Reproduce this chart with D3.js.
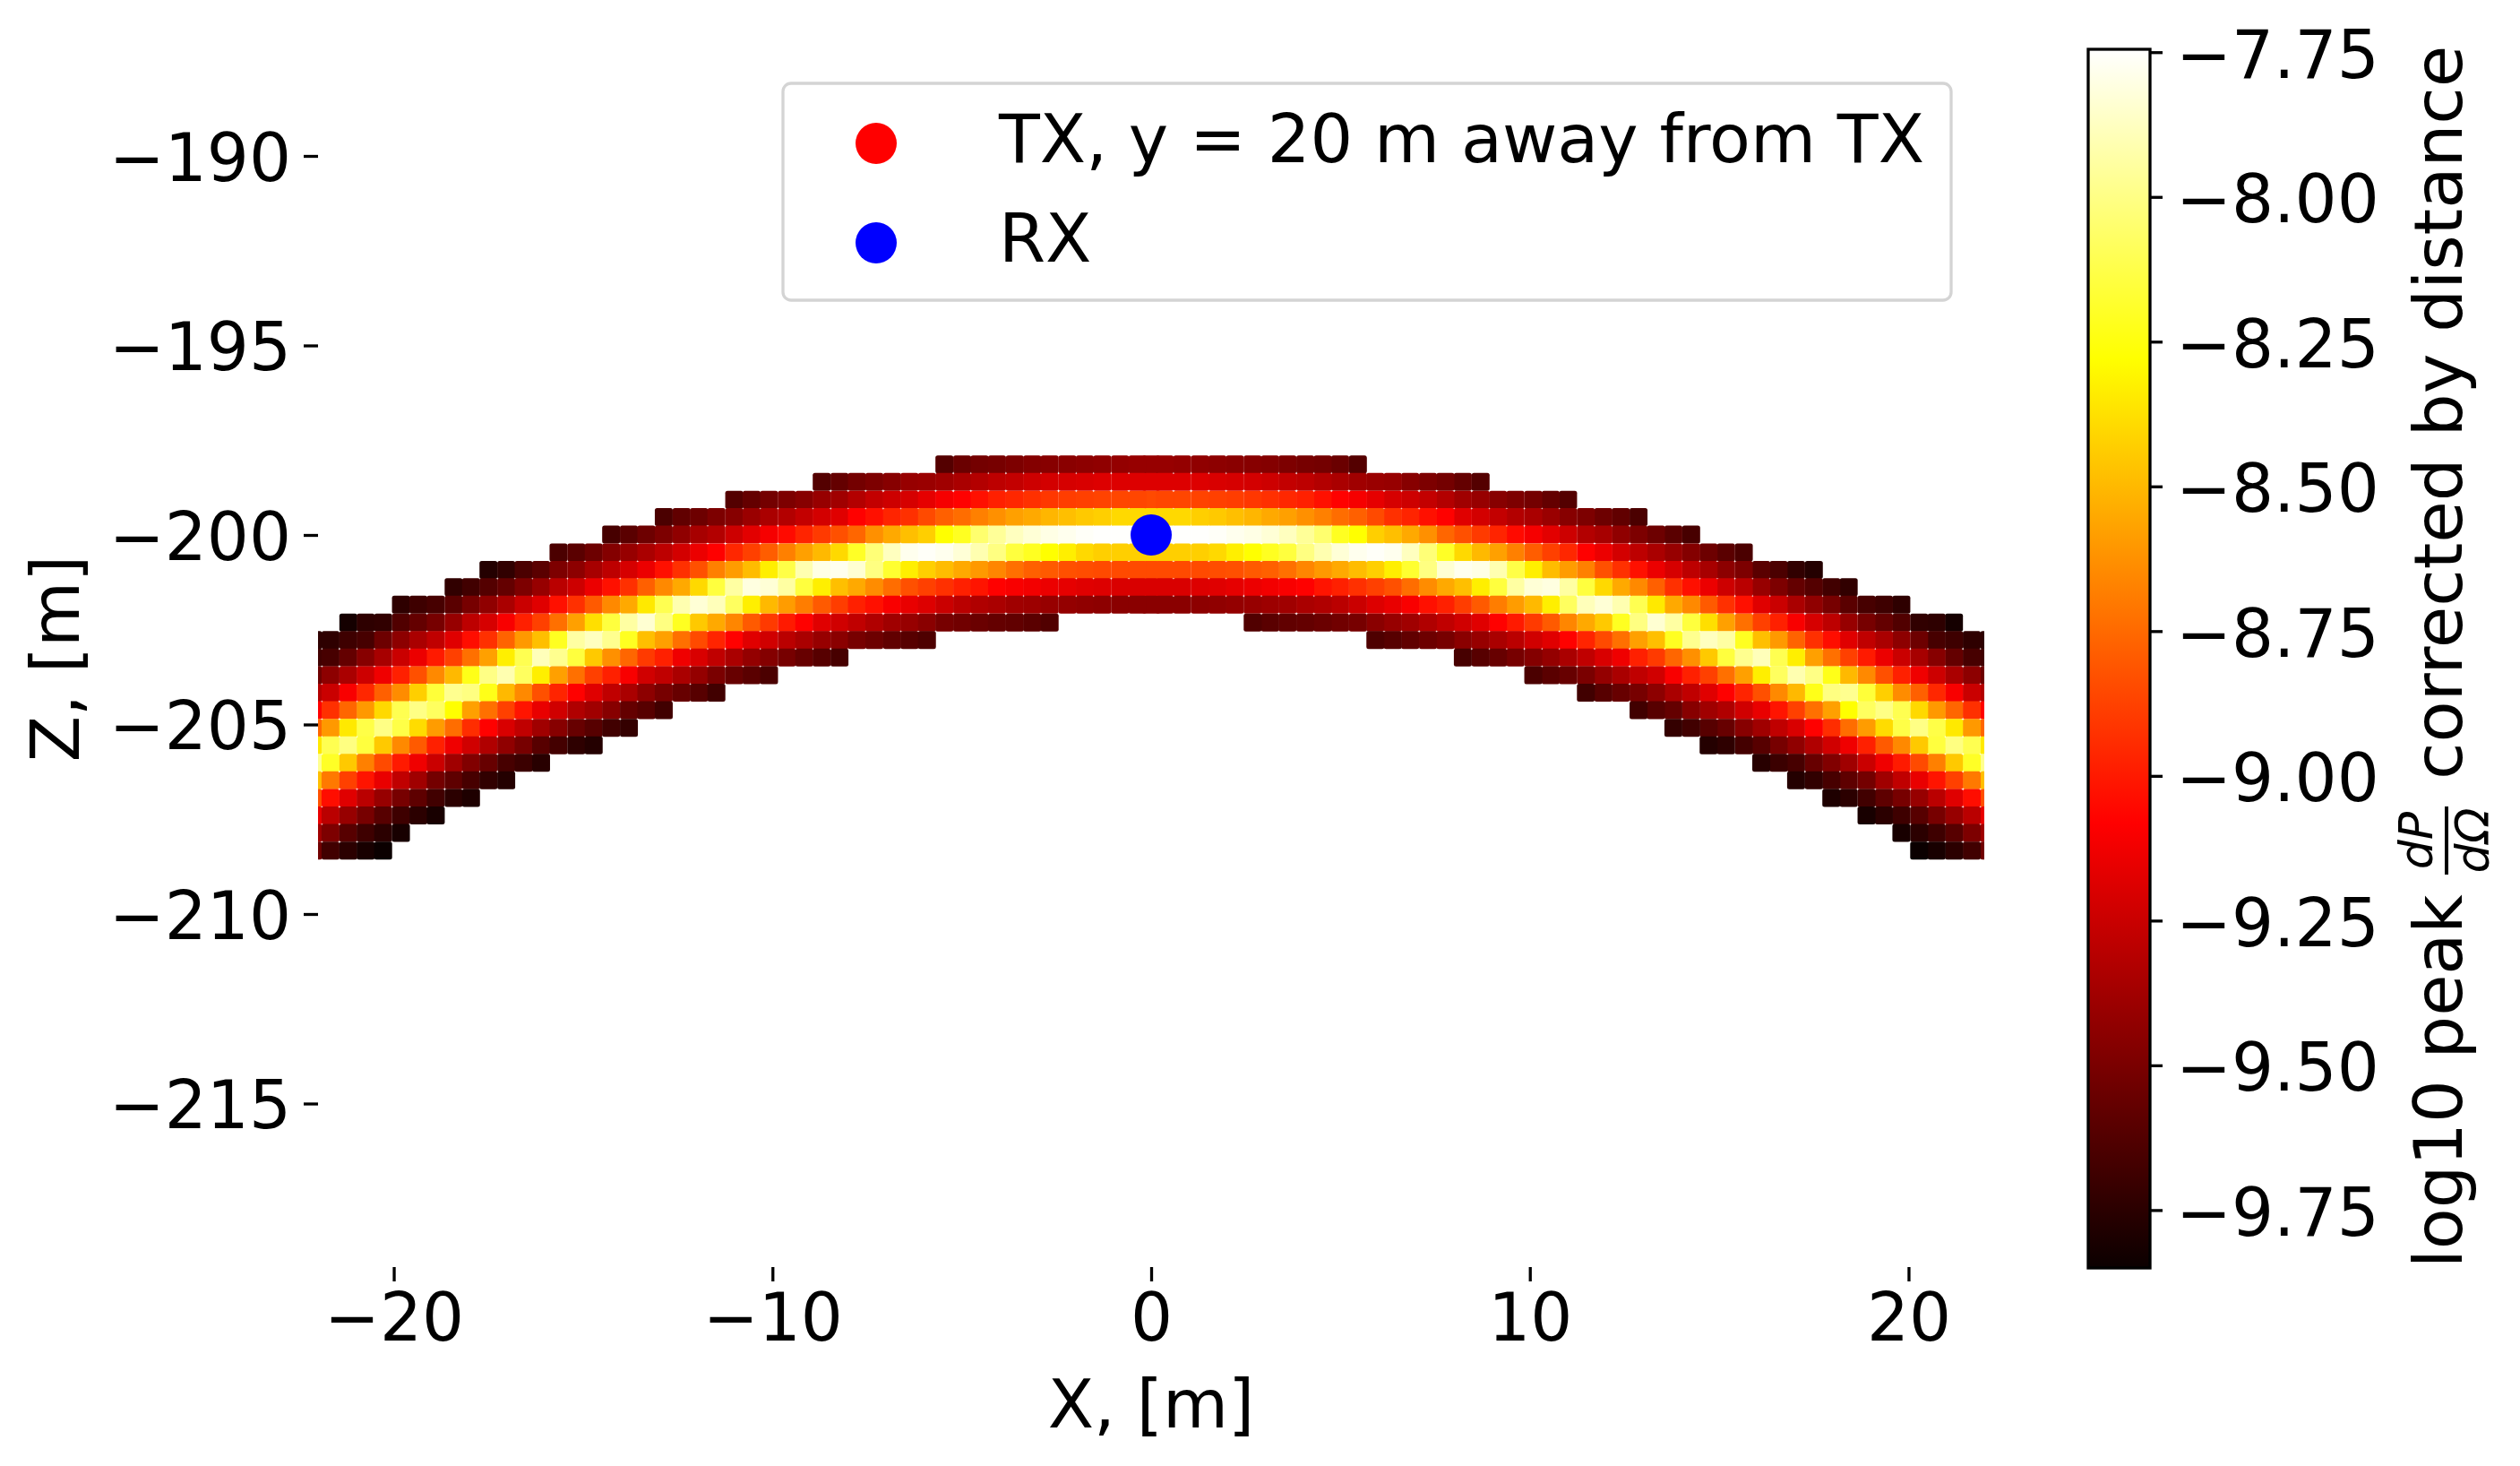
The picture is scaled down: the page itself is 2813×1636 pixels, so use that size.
<!DOCTYPE html>
<html>
<head>
<meta charset="utf-8">
<script src="https://cdn.jsdelivr.net/npm/d3@7"></script>
<style>
  body { margin: 0; background: white; }
  text { font-family: "DejaVu Sans", sans-serif; fill: black; }
</style>
</head>
<body>
<div id="chart"></div>
<script>
// grid columns left of x = 0, the right side of the band is the mirror image
const xColumns = [-22.13, -21.67, -21.20, -20.74, -20.28, -19.81, -19.35, -18.89, -18.42, -17.96,
  -17.50, -17.03, -16.57, -16.11, -15.65, -15.18, -14.72, -14.26, -13.79, -13.33,
  -12.87, -12.40, -11.94, -11.48, -11.01, -10.55, -10.09, -9.62, -9.16, -8.70,
  -8.23, -7.77, -7.31, -6.84, -6.38, -5.92, -5.46, -4.99, -4.53, -4.07,
  -3.60, -3.14, -2.68, -2.21, -1.75, -1.29, -0.82, -0.36];
const zRows = [-198.14, -198.60, -199.07, -199.53, -199.99, -200.46, -200.92, -201.38, -201.84, -202.31,
  -202.77, -203.23, -203.70, -204.16, -204.62, -205.09, -205.55, -206.01, -206.47, -206.94,
  -207.40, -207.86, -208.33];
// index in xColumns of the first cell of each row
const rowStart = [36, 29, 24, 20, 17, 14, 10, 8, 5, 2, 0, 0, 0, 0, 0, 0, 0, 0, 0, 0, 0, 0, 0];

const row00 = [-9.62, -9.55, -9.52, -9.51, -9.49, -9.47, -9.46, -9.45, -9.44, -9.43, -9.42, -9.41];
const row01 = [-9.62, -9.57, -9.52, -9.49, -9.46, -9.41, -9.40, -9.38, -9.35, -9.32, -9.29, -9.27, -9.24, -9.22, -9.21, -9.20, -9.19, -9.19, -9.19];
const row02 = [-9.62, -9.57, -9.52, -9.49, -9.46, -9.41, -9.38, -9.32, -9.27, -9.24, -9.21, -9.16, -9.11, -9.08, -9.03, -8.98, -8.96, -8.93, -8.91, -8.89, -8.88, -8.87, -8.86, -8.86];
const row03 = [-9.65, -9.58, -9.54, -9.49, -9.46, -9.40, -9.35, -9.32, -9.27, -9.22, -9.18, -9.08, -9.03, -8.97, -8.93, -8.85, -8.78, -8.74, -8.68, -8.63, -8.58, -8.55, -8.51, -8.48, -8.45, -8.43, -8.40, -8.40];
const row04 = [-9.66, -9.60, -9.54, -9.49, -9.43, -9.36, -9.32, -9.24, -9.17, -9.11, -9.05, -8.97, -8.90, -8.83, -8.76, -8.63, -8.55, -8.48, -8.43, -8.28, -8.21, -8.05, -7.96, -7.88, -7.83, -7.80, -7.78, -7.76, -7.75, -7.75, -7.75];
const row05 = [-9.65, -9.60, -9.54, -9.47, -9.41, -9.35, -9.29, -9.22, -9.14, -9.08, -8.96, -8.88, -8.79, -8.68, -8.58, -8.50, -8.40, -8.20, -8.03, -7.88, -7.78, -7.76, -7.78, -7.83, -7.91, -8.01, -8.15, -8.21, -8.28, -8.33, -8.40, -8.43, -8.43, -8.43];
const row06 = [-9.77, -9.73, -9.65, -9.60, -9.49, -9.44, -9.36, -9.29, -9.21, -9.14, -9.03, -8.93, -8.83, -8.68, -8.59, -8.49, -8.33, -8.13, -7.91, -7.80, -7.78, -7.84, -8.01, -8.18, -8.33, -8.43, -8.49, -8.55, -8.60, -8.66, -8.73, -8.78, -8.80, -8.83, -8.84, -8.85, -8.85, -8.85];
const row07 = [-9.73, -9.68, -9.62, -9.57, -9.49, -9.41, -9.30, -9.24, -9.14, -9.03, -8.93, -8.78, -8.65, -8.55, -8.40, -8.15, -7.94, -7.81, -7.83, -7.94, -8.15, -8.33, -8.48, -8.55, -8.64, -8.74, -8.83, -8.88, -8.93, -8.98, -9.02, -9.08, -9.10, -9.12, -9.14, -9.16, -9.18, -9.19, -9.20, -9.20];
const row08 = [-9.74, -9.69, -9.66, -9.60, -9.51, -9.43, -9.35, -9.25, -9.18, -9.03, -8.93, -8.80, -8.65, -8.55, -8.35, -8.11, -7.91, -7.83, -7.89, -8.08, -8.33, -8.50, -8.59, -8.69, -8.80, -8.89, -8.98, -9.03, -9.10, -9.15, -9.19, -9.25, -9.30, -9.33, -9.35, -9.38, -9.39, -9.41, -9.42, -9.43, -9.44, -9.45, -9.45];
const row09 = [-9.82, -9.74, -9.73, -9.63, -9.57, -9.51, -9.41, -9.29, -9.21, -9.10, -8.98, -8.88, -8.73, -8.58, -8.38, -8.15, -7.94, -7.84, -8.01, -8.21, -8.45, -8.55, -8.66, -8.80, -8.90, -9.00, -9.08, -9.18, -9.23, -9.28, -9.33, -9.38, -9.41, -9.45, -9.51, -9.53, -9.55, -9.57, -9.58, -9.60, -9.63];
const row10 = [-9.74, -9.74, -9.69, -9.66, -9.54, -9.44, -9.35, -9.28, -9.18, -9.04, -8.93, -8.77, -8.60, -8.48, -8.21, -7.94, -7.88, -7.98, -8.21, -8.48, -8.58, -8.73, -8.85, -8.97, -9.08, -9.18, -9.23, -9.30, -9.35, -9.41, -9.45, -9.51, -9.54, -9.58, -9.61, -9.64];
const row11 = [-9.68, -9.66, -9.57, -9.46, -9.36, -9.25, -9.14, -9.00, -8.88, -8.73, -8.58, -8.33, -8.11, -7.89, -7.98, -8.15, -8.45, -8.63, -8.76, -8.90, -8.98, -9.13, -9.20, -9.28, -9.35, -9.42, -9.47, -9.51, -9.56, -9.61, -9.66];
const row12 = [-9.54, -9.44, -9.35, -9.24, -9.13, -8.98, -8.83, -8.65, -8.50, -8.23, -8.00, -7.91, -8.08, -8.33, -8.58, -8.73, -8.88, -8.98, -9.10, -9.23, -9.28, -9.35, -9.42, -9.50, -9.56, -9.60, -9.65];
const row13 = [-9.32, -9.25, -9.10, -8.96, -8.78, -8.64, -8.43, -8.16, -7.98, -8.01, -8.23, -8.50, -8.65, -8.83, -8.97, -9.08, -9.18, -9.28, -9.35, -9.44, -9.51, -9.56, -9.61, -9.68];
const row14 = [-9.08, -8.93, -8.76, -8.60, -8.40, -8.11, -8.00, -8.08, -8.28, -8.58, -8.73, -8.88, -9.02, -9.15, -9.23, -9.33, -9.38, -9.46, -9.57, -9.61, -9.68];
const row15 = [-8.76, -8.60, -8.35, -8.13, -8.00, -8.13, -8.39, -8.59, -8.74, -8.94, -9.08, -9.20, -9.28, -9.38, -9.46, -9.56, -9.61, -9.68, -9.72];
const row16 = [-8.35, -8.11, -8.01, -8.15, -8.45, -8.65, -8.80, -8.98, -9.13, -9.23, -9.33, -9.43, -9.51, -9.61, -9.67, -9.74, -9.77];
const row17 = [-7.98, -8.20, -8.45, -8.68, -8.85, -9.00, -9.13, -9.25, -9.38, -9.48, -9.56, -9.66, -9.70, -9.76];
const row18 = [-8.48, -8.70, -8.88, -9.02, -9.15, -9.28, -9.38, -9.52, -9.59, -9.66, -9.73, -9.77];
const row19 = [-8.83, -9.04, -9.18, -9.30, -9.41, -9.51, -9.59, -9.68, -9.75, -9.79];
const row20 = [-9.15, -9.30, -9.41, -9.51, -9.61, -9.69, -9.75, -9.81];
const row21 = [-9.38, -9.49, -9.61, -9.69, -9.75, -9.81];
const row22 = [-9.53, -9.68, -9.75, -9.81, -9.85];
const rowValues = [row00, row01, row02, row03, row04, row05, row06, row07, row08, row09, row10, row11,
  row12, row13, row14, row15, row16, row17, row18, row19, row20, row21, row22];
// the cells on x = 0, rows 0 to 8, they sit under both halves
const centerValues = [-9.41, -9.19, -8.85, -8.40, -7.75, -8.43, -8.85, -9.20, -9.45];

const xTicks = [-20, -10, 0, 10, 20];
const zTicks = [-190, -195, -200, -205, -210, -215];
const cbarTicks = [-9.75, -9.5, -9.25, -9, -8.75, -8.5, -8.25, -8, -7.75];
const legendLabels = ["TX, y = 20 m away from TX", "RX"];
const legendColors = ["#ff0000", "#0000ff"];

const fontSize = 74;
const titleSize = 75;
const tickWidth = 3.3;
const tickLen = 16;
const cellSize = 20;

const x = d3.scaleLinear().domain([-22, 22]).range([355, 2215]);
const z = d3.scaleLinear().domain([-200, -190]).range([597, 174]);
const plotTop = 55, plotBottom = 1414;

// matplotlib "hot" colormap
const vmin = -9.85, vmax = -7.745;
const hotStops = [0, 0.365, 0.746, 1];
const hotColors = ["#0b0000", "#ff0000", "#ffff00", "#ffffff"];
const color = d3.scaleLinear()
  .domain(hotStops.map(t => vmin + t * (vmax - vmin)))
  .range(hotColors);

const svg = d3.select("#chart").append("svg")
  .attr("width", 2813)
  .attr("height", 1636)
  .style("display", "block");

const defs = svg.append("defs");
defs.append("clipPath").attr("id", "plot-clip")
  .append("rect")
  .attr("x", x(-22)).attr("y", plotTop)
  .attr("width", x(22) - x(-22)).attr("height", plotBottom - plotTop);

const grad = defs.append("linearGradient").attr("id", "hot")
  .attr("x1", 0).attr("y1", 1).attr("x2", 0).attr("y2", 0);
hotStops.forEach((t, i) => {
  grad.append("stop").attr("offset", t).attr("stop-color", hotColors[i]);
});

// cells
const cells = [];
centerValues.forEach((v, i) => cells.push({x: 0, z: zRows[i], v: v}));
rowValues.forEach((vals, i) => {
  vals.forEach((v, k) => {
    const col = xColumns[rowStart[i] + k];
    cells.push({x: col, z: zRows[i], v: v});
    cells.push({x: -col, z: zRows[i], v: v});
  });
});

const plot = svg.append("g").attr("clip-path", "url(#plot-clip)");
plot.selectAll(".cell")
  .data(cells)
  .enter()
  .append("rect")
  .attr("class", "cell")
  .attr("x", d => x(d.x) - cellSize / 2)
  .attr("y", d => z(d.z) - cellSize / 2)
  .attr("width", cellSize)
  .attr("height", cellSize)
  .attr("rx", 2.5)
  .style("fill", d => color(d.v));

plot.append("circle")
  .attr("cx", x(0))
  .attr("cy", z(-200))
  .attr("r", 23)
  .style("fill", legendColors[1]);

// axes, no spines on the main one
const xAxis = svg.append("g")
  .attr("transform", `translate(0,${plotBottom})`)
  .call(d3.axisBottom(x).tickValues(xTicks).tickFormat(d3.format("d")).tickSize(tickLen).tickPadding(13));
const zAxis = svg.append("g")
  .attr("transform", `translate(${x(-22)},0)`)
  .call(d3.axisLeft(z).tickValues(zTicks).tickFormat(d3.format("d")).tickSize(tickLen).tickPadding(14));

// colorbar
const cbarX = 2331, cbarW = 69;
const cbarY = d3.scaleLinear().domain([vmin, vmax]).range([1415, 55]);
svg.append("rect")
  .attr("x", cbarX).attr("y", cbarY(vmax))
  .attr("width", cbarW).attr("height", cbarY(vmin) - cbarY(vmax))
  .style("fill", "url(#hot)")
  .style("stroke", "black")
  .style("stroke-width", tickWidth);
const cbarAxis = svg.append("g")
  .attr("transform", `translate(${cbarX + cbarW},0)`)
  .call(d3.axisRight(cbarY).tickValues(cbarTicks).tickFormat(d3.format(".2f")).tickSize(14).tickPadding(15));

[xAxis, zAxis, cbarAxis].forEach(a => {
  a.select(".domain").remove();
  a.selectAll("line").style("stroke", "black").style("stroke-width", tickWidth);
  a.selectAll("text").style("font-size", fontSize + "px").style("font-family", '"DejaVu Sans", sans-serif');
});
zAxis.selectAll("text").attr("dy", "0.37em");
cbarAxis.selectAll("text").attr("dy", "0.38em");

// axis titles
svg.append("text")
  .attr("x", x(0)).attr("y", 1593)
  .attr("text-anchor", "middle")
  .style("font-size", titleSize + "px")
  .text("X, [m]");
svg.append("text")
  .attr("transform", "translate(88,735) rotate(-90)")
  .attr("text-anchor", "middle")
  .style("font-size", titleSize + "px")
  .text("Z, [m]");

// colorbar label, mathtext fraction is put together by hand
const cbarBase = 2748;
svg.append("text")
  .attr("transform", `translate(${cbarBase},1415) rotate(-90)`)
  .style("font-size", titleSize + "px")
  .text("log10 peak");
svg.append("text")
  .attr("transform", `translate(${cbarBase},870) rotate(-90)`)
  .style("font-size", titleSize + 0.5 + "px")
  .text("corrected by distance");
svg.append("rect")
  .attr("x", 2729).attr("y", 900).attr("width", 4).attr("height", 76)
  .style("fill", "black");
svg.append("text")
  .attr("transform", "translate(2715,938) rotate(-90)")
  .attr("text-anchor", "middle")
  .style("font-size", "52px")
  .style("font-style", "italic")
  .text("dP");
svg.append("text")
  .attr("transform", "translate(2778,938) rotate(-90)")
  .attr("text-anchor", "middle")
  .style("font-size", "52px")
  .style("font-style", "italic")
  .text("dΩ");

// legend
svg.append("rect")
  .attr("x", 874).attr("y", 93)
  .attr("width", 1304).attr("height", 242)
  .attr("rx", 9)
  .style("fill", "white")
  .style("fill-opacity", 0.8)
  .style("stroke", "#d4d4d4")
  .style("stroke-width", 3.3);
const legendRow = d3.scaleLinear().domain([0, 1]).range([160, 271]);
legendLabels.forEach((label, i) => {
  svg.append("circle")
    .attr("cx", 978).attr("cy", legendRow(i))
    .attr("r", 23)
    .style("fill", legendColors[i]);
  svg.append("text")
    .attr("x", 1115).attr("y", legendRow(i) + 21)
    .style("font-size", titleSize + "px")
    .text(label);
});
</script>
</body>
</html>
